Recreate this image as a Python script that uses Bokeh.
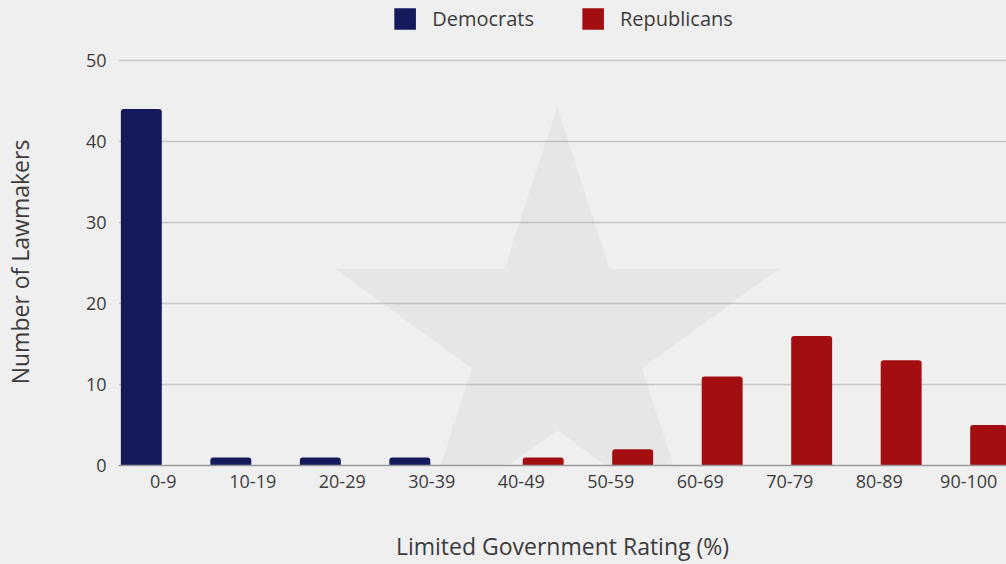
from bokeh.plotting import figure
from bokeh.layouts import column
from bokeh.models import ColumnDataSource, Legend, LegendItem, FixedTicker, Range1d
from bokeh.embed import file_html
from bokeh.resources import INLINE

categories = ["0-9", "10-19", "20-29", "30-39", "40-49", "50-59", "60-69", "70-79", "80-89", "90-100"]
democrats = [44, 1, 1, 1, 0, 0, 0, 0, 0, 0]
republicans = [0, 0, 0, 0, 1, 2, 11, 16, 13, 5]
y_ticks = [0, 10, 20, 30, 40, 50]
series_names = ["Democrats", "Republicans"]

FONT = "Open Sans"
TEXT = "#3c3c3c"
BG = "#efefef"
DEM_COLOR = "#141a5c"
REP_COLOR = "#a30e10"

W, H = 1006, 564
LEGEND_H = 48
TOP_PAD = 10
frame_left = 117
px_per_cat = 89.6
x_end = (W - frame_left) / px_per_cat - 0.5

# ---------------- legend strip ----------------
lg = figure(width=W, height=LEGEND_H, output_backend="svg", toolbar_location=None,
            x_range=Range1d(0, 1), y_range=Range1d(0, 1),
            x_axis_type=None, y_axis_type=None,
            min_border_left=frame_left, min_border_right=0, min_border_top=0,
            min_border_bottom=0)
lg.background_fill_color = BG
lg.border_fill_color = BG
lg.outline_line_color = None
lg.xgrid.visible = False
lg.ygrid.visible = False
# zero-height proxies: only used to draw the legend swatches
proxy = dict(x=[0.5], top=[0])
lr_dem = lg.vbar(x="x", top="top", width=0.01, source=ColumnDataSource(proxy),
                 fill_color=DEM_COLOR, line_color=None)
lr_rep = lg.vbar(x="x", top="top", width=0.01, source=ColumnDataSource(proxy),
                 fill_color=REP_COLOR, line_color=None)
legend = Legend(items=[LegendItem(label=series_names[0], renderers=[lr_dem]),
                       LegendItem(label=series_names[1], renderers=[lr_rep])],
                location="top_center", orientation="horizontal",
                background_fill_alpha=0, border_line_alpha=0,
                glyph_width=27, glyph_height=27, label_standoff=14, spacing=45,
                padding=0, margin=5,
                label_text_font=FONT, label_text_font_size="20px",
                label_text_color=TEXT)
lg.add_layout(legend)

# ---------------- main chart ----------------
p = figure(width=W, height=H - LEGEND_H, output_backend="svg", toolbar_location=None,
           x_range=Range1d(-0.5, x_end), y_range=Range1d(0, 50.25),
           min_border_left=frame_left, min_border_right=0, min_border_top=TOP_PAD,
           min_border_bottom=0)
p.background_fill_color = BG
p.border_fill_color = BG
p.outline_line_color = None

# decorative star watermark
p.scatter(x=[4.40], y=[15.4], marker="star", size=468, fill_color="black",
          fill_alpha=0.035, line_color=None)

idx = list(range(len(categories)))
dem_src = ColumnDataSource(dict(
    x=[i - 0.245 for i, v in zip(idx, democrats) if v > 0],
    top=[v for v in democrats if v > 0]))
rep_src = ColumnDataSource(dict(
    x=[i + 0.245 for i, v in zip(idx, republicans) if v > 0],
    top=[v for v in republicans if v > 0]))

bw = 41 / px_per_cat
p.vbar(x="x", top="top", width=bw, source=dem_src, fill_color=DEM_COLOR,
       line_color=None, border_radius=(3, 3, 0, 0))
p.vbar(x="x", top="top", width=bw, source=rep_src, fill_color=REP_COLOR,
       line_color=None, border_radius=(3, 3, 0, 0))

# x axis
xa = p.xaxis[0]
xa.ticker = FixedTicker(ticks=idx)
xa.major_label_overrides = {i: c for i, c in zip(idx, categories)}
xa.major_tick_line_color = None
xa.minor_tick_line_color = None
xa.axis_line_color = "#9a9a9a"
xa.axis_line_width = 1.5
xa.major_label_text_font = FONT
xa.major_label_text_font_size = "18px"
xa.major_label_text_color = TEXT
xa.major_label_standoff = 3
xa.axis_label = "Limited Government Rating (%)"
xa.axis_label_text_font = FONT
xa.axis_label_text_font_size = "23px"
xa.axis_label_text_font_style = "normal"
xa.axis_label_text_color = TEXT
xa.axis_label_standoff = 39

# y axis
ya = p.yaxis[0]
ya.ticker = FixedTicker(ticks=y_ticks)
ya.axis_line_color = None
ya.major_tick_line_color = None
ya.minor_tick_line_color = None
ya.major_label_text_font = FONT
ya.major_label_text_font_size = "18px"
ya.major_label_text_color = TEXT
ya.major_label_standoff = 6
ya.axis_label = "Number of Lawmakers"
ya.axis_label_text_font = FONT
ya.axis_label_text_font_size = "23px"
ya.axis_label_text_font_style = "normal"
ya.axis_label_text_color = TEXT
ya.axis_label_standoff = 47

p.xgrid.grid_line_color = None
p.ygrid.ticker = FixedTicker(ticks=y_ticks[1:])
p.ygrid.grid_line_color = "#c6c6c6"
p.ygrid.grid_line_width = 1.5

layout = column(lg, p, spacing=0)
layout.styles = {"background-color": BG}
open("out.html", "w").write(file_html(layout, INLINE))
